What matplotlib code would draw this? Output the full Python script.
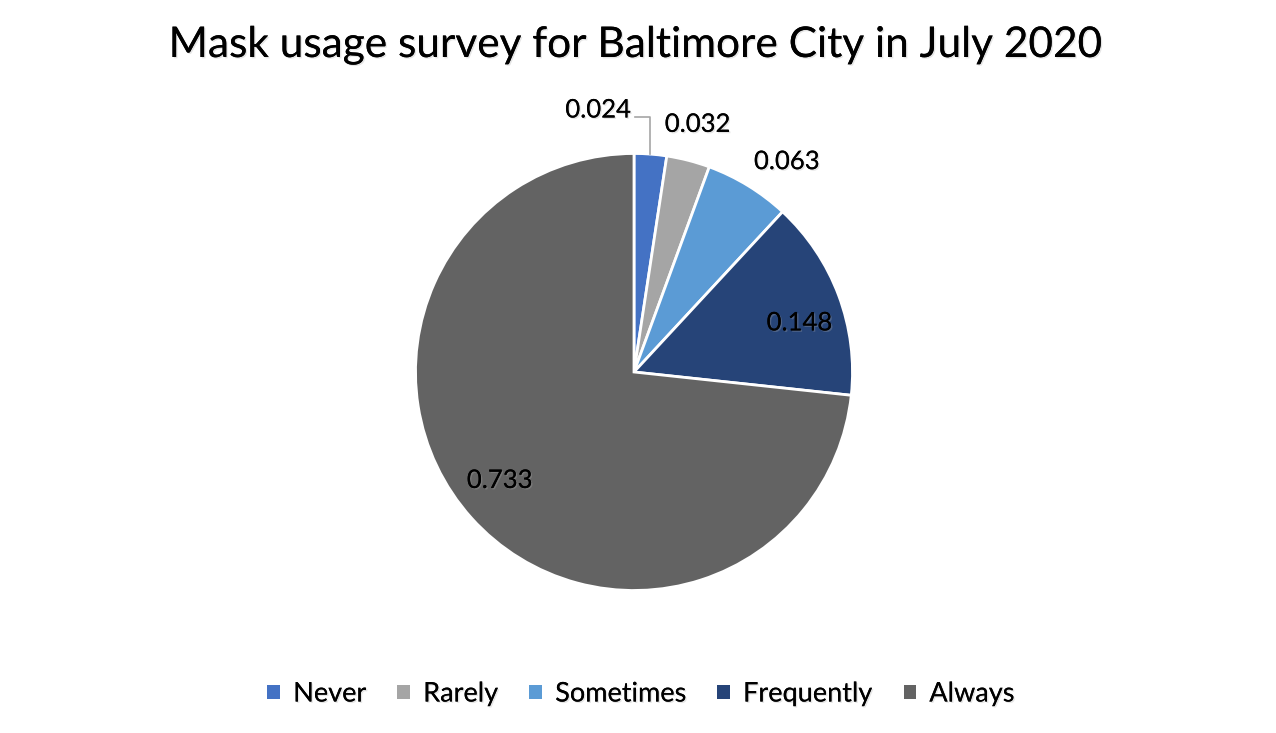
import numpy as np
import matplotlib
matplotlib.use("Agg")
import matplotlib.pyplot as plt
import matplotlib.patheffects as pe

# data
categories = ["Never", "Rarely", "Sometimes", "Frequently", "Always"]
shares = [0.024, 0.032, 0.063, 0.148, 0.733]
labels = ["0.024", "0.032", "0.063", "0.148", "0.733"]
colors = ["#4472C4", "#A5A5A5", "#5B9BD5", "#264478", "#636363"]

# label radius (in pie radii), angle shift for crowded labels
label_r = [1.2, 1.17, 1.19, 0.79, 0.79]
label_shift = [0, 0, -4.5, -4, -3]

plt.rcParams['font.family'] = ['Lato', 'DejaVu Sans']
shadow = [pe.withSimplePatchShadow(offset=(1, -1), shadow_rgbFace='#aaaaaa', alpha=0.3),
          pe.Normal()]

W, H = 1276, 733
fig = plt.figure(figsize=(W / 100, H / 100), dpi=100)
fig.patch.set_facecolor("white")

cx, cy, R = 634, 372, 218.5
ax = fig.add_axes([(cx - R) / W, (H - cy - R) / H, 2 * R / W, 2 * R / H])

wedges, _ = ax.pie(shares, colors=colors, startangle=90, counterclock=False,
                   radius=1, wedgeprops=dict(edgecolor="white", linewidth=2))
ax.set_xlim(-1, 1)
ax.set_ylim(-1, 1)
ax.axis("off")

for i, w in enumerate(wedges):
    mid = np.deg2rad((w.theta1 + w.theta2) / 2 + label_shift[i])
    r = label_r[i]
    if i == 0:
        # first label pushed left with a leader line
        ex, ey = np.cos(mid), np.sin(mid)
        ly = 1.165
        ax.plot([ex, ex, ex - 0.07], [ey, ly, ly], color="#A5A5A5", lw=1.2,
                clip_on=False)
        ax.text(ex - 0.09, 1.199, labels[i], ha="right", va="center",
                fontsize=18.5, path_effects=shadow)
    else:
        ax.text(r * np.cos(mid), r * np.sin(mid), labels[i], ha="center",
                va="center", fontsize=18.5, path_effects=shadow)

fig.text(0.498, 1 - 45 / H, "Mask usage survey for Baltimore City in July 2020",
         ha="center", va="center", fontsize=30.5, path_effects=shadow)

leg = fig.legend(wedges, categories, loc="center", ncol=5,
                 bbox_to_anchor=(641 / W, 1 - 694 / H), frameon=False,
                 fontsize=19.5, handlelength=0.45, handleheight=0.45,
                 handletextpad=0.5, columnspacing=1.15)
for t in leg.get_texts():
    t.set_path_effects(shadow)
for h in leg.legend_handles:
    h.set_edgecolor("none")

fig.savefig("out.png", dpi=100, facecolor="white")
